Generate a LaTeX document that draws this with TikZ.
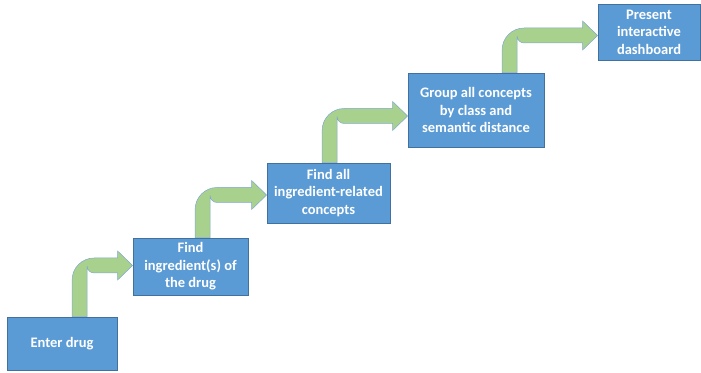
\documentclass[tikz,border=0pt]{standalone}
\usepackage{fontspec}
\setmainfont{Carlito}
\usetikzlibrary{positioning, calc}

\definecolor{boxblue}{HTML}{5B9BD5}
\definecolor{boxedge}{HTML}{41719C}
\definecolor{arrowgreen}{HTML}{A9D18E}
\definecolor{arrowedge}{HTML}{7FA7CF}

% bent arrow: source, target, shaft offset from source corner, shift of tip
\newcommand{\bentarrow}[4]{%
  \filldraw[flowarrow] let \p1=([xshift=#3]#1.north west), \p2=([yshift=#4]#2.west) in
    (\x1-7.5pt,\y1) -- (\x1-7.5pt,\y2-14.5pt) arc[start angle=180,end angle=90,radius=22pt]
    -- (\x2-15pt,\y2+7.5pt) -- (\x2-15pt,\y2+14.5pt) -- (\x2,\y2) -- (\x2-15pt,\y2-14.5pt)
    -- (\x2-15pt,\y2-7.5pt) -- (\x1+14.5pt,\y2-7.5pt) arc[start angle=270,end angle=180,radius=7pt]
    -- (\x1+7.5pt,\y1) -- cycle;
}

\begin{document}
\begin{tikzpicture}[
        x=1pt, y=1pt,
        procbox/.style={draw=boxedge, line width=0.8pt, fill=boxblue, text=white, inner sep=0pt,
          align=center, font=\fontsize{14.5}{17.5}\selectfont\bfseries},
        flowarrow/.style={fill=arrowgreen, draw=arrowedge, line width=0.5pt}
      ]
      \useasboundingbox (0,0) rectangle (701,372);

      % Nodes
      \node (drug) [procbox, minimum width=110pt, minimum height=53pt] at (62,28.5) {Enter drug};
      \node (ingr) [procbox, minimum width=115pt, minimum height=57pt] at (190.5,105.5) {Find\\ingredient(s) of\\the drug};
      \node (related) [procbox, minimum width=123pt, minimum height=60pt] at (328.5,179) {Find all\\ingredient-related\\concepts};
      \node (group) [procbox, minimum width=136pt, minimum height=74pt] at (476,262) {Group all concepts\\by class and\\semantic distance};
      \node (dashboard) [procbox, minimum width=102pt, minimum height=56pt] at (649,340) {Present\\interactive\\dashboard};

      % Arrows
      \bentarrow{drug}{ingr}{73pt}{1pt}
      \bentarrow{ingr}{related}{70pt}{-2pt}
      \bentarrow{related}{group}{63pt}{-6pt}
      \bentarrow{group}{dashboard}{102pt}{-3.5pt}

    \end{tikzpicture}
\end{document}
